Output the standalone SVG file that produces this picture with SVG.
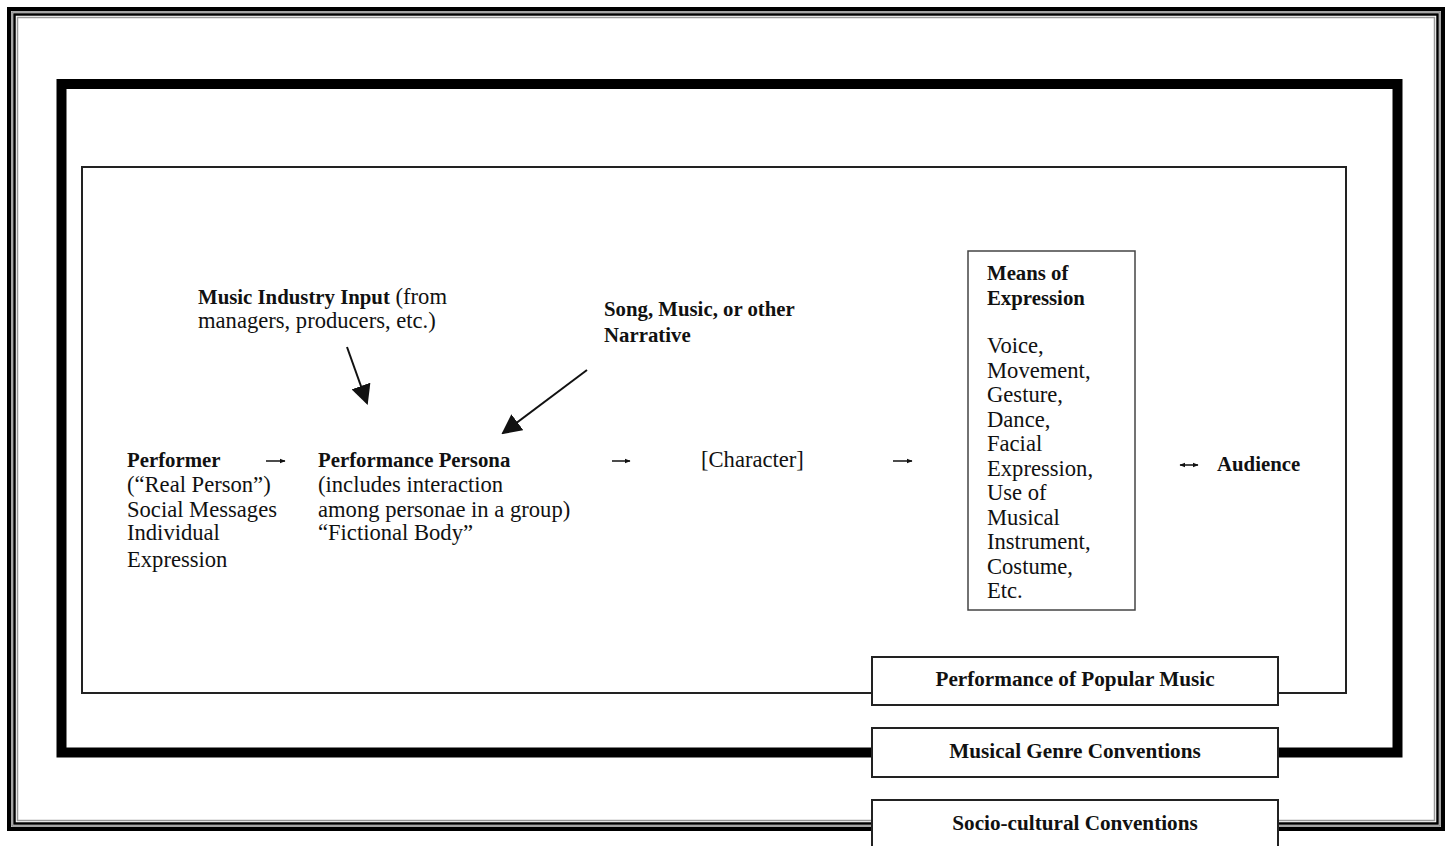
<svg xmlns="http://www.w3.org/2000/svg" width="1445" height="846" viewBox="0 0 1445 846">
<defs>
<style>
text{font-family:"Liberation Serif","Times New Roman",serif;font-size:22.6px;fill:#111}
.b{font-weight:bold;font-size:20.8px}
.lbl{text-anchor:middle;font-weight:bold;font-size:21.2px}
.box{fill:#fff;stroke:#222;stroke-width:2}
.conn{stroke:#111;stroke-width:2;fill:none}
.sm{stroke:#111;stroke-width:1.5;fill:none}
</style>
<marker id="head" viewBox="0 0 10 10" refX="9" refY="5" markerWidth="10" markerHeight="10" orient="auto">
<path d="M0,0 L10,5 L0,10 z" fill="#111"/>
</marker>
<marker id="tiny" viewBox="0 0 10 10" refX="9" refY="5" markerWidth="4" markerHeight="4" orient="auto">
<path d="M0,1 L10,5 L0,9 z" fill="#111"/>
</marker>
<marker id="tinyS" viewBox="0 0 10 10" refX="1" refY="5" markerWidth="4" markerHeight="4" orient="auto">
<path d="M10,1 L0,5 L10,9 z" fill="#111"/>
</marker>
</defs>
<rect width="1445" height="846" fill="#fff"/>
<g id="frame-socio">
<rect x="9" y="9" width="1434" height="820" fill="none" stroke="#000" stroke-width="4"/>
<rect x="12" y="12" width="1428" height="814" fill="none" stroke="#888" stroke-width="1.5"/>
<rect x="14.5" y="14.5" width="1423" height="809" fill="none" stroke="#000" stroke-width="2.5"/>
<rect x="17.5" y="17.5" width="1417" height="803" fill="none" stroke="#999" stroke-width="1.5"/>
</g>
<g id="frame-genre">
<rect x="61.5" y="84" width="1336" height="668.5" fill="none" stroke="#000" stroke-width="10"/>
</g>
<g id="frame-performance">
<rect x="82" y="167" width="1264" height="526" fill="none" stroke="#222" stroke-width="2"/>
</g>
<g id="label-performance">
<rect class="box" x="872" y="657" width="406" height="48"/>
<text class="lbl" x="1075" y="686">Performance of Popular Music</text>
</g>
<g id="label-genre">
<rect class="box" x="872" y="728" width="406" height="49"/>
<text class="lbl" x="1075" y="758">Musical Genre Conventions</text>
</g>
<g id="label-socio">
<rect class="box" x="872" y="800" width="406" height="60"/>
<text class="lbl" x="1075" y="830">Socio-cultural Conventions</text>
</g>
<g id="music-industry">
<text x="198" y="304"><tspan class="b">Music Industry Input</tspan> (from</text>
<text x="198" y="328">managers, producers, etc.)</text>
</g>
<g id="narrative">
<text class="b" x="604" y="316">Song, Music, or other</text>
<text class="b" x="604" y="342">Narrative</text>
</g>
<g id="performer">
<text class="b" x="127" y="467">Performer</text>
<text x="127" y="492">(“Real Person”)</text>
<text x="127" y="517">Social Messages</text>
<text x="127" y="540">Individual</text>
<text x="127" y="567">Expression</text>
</g>
<g id="persona">
<text class="b" x="318" y="467">Performance Persona</text>
<text x="318" y="492">(includes interaction</text>
<text x="318" y="517">among personae in a group)</text>
<text x="318" y="540">“Fictional Body”</text>
</g>
<g id="character">
<text x="701" y="467">[Character]</text>
</g>
<g id="means">
<rect x="968" y="251" width="167" height="359" fill="#fff" stroke="#444" stroke-width="1.5"/>
<text class="b" x="987" y="280">Means of</text>
<text class="b" x="987" y="305">Expression</text>
<text x="987" y="353">Voice,</text>
<text x="987" y="378">Movement,</text>
<text x="987" y="402">Gesture,</text>
<text x="987" y="427">Dance,</text>
<text x="987" y="451">Facial</text>
<text x="987" y="476">Expression,</text>
<text x="987" y="500">Use of</text>
<text x="987" y="525">Musical</text>
<text x="987" y="549">Instrument,</text>
<text x="987" y="574">Costume,</text>
<text x="987" y="598">Etc.</text>
</g>
<g id="audience">
<text class="b" x="1217" y="471">Audience</text>
</g>
<g id="connectors">
<line class="conn" x1="347" y1="347" x2="367" y2="403" marker-end="url(#head)"/>
<line class="conn" x1="587" y1="370" x2="503" y2="433" marker-end="url(#head)"/>
<line class="sm" x1="266" y1="461" x2="285" y2="461" marker-end="url(#tiny)"/>
<line class="sm" x1="612" y1="461" x2="630" y2="461" marker-end="url(#tiny)"/>
<line class="sm" x1="893" y1="461" x2="912" y2="461" marker-end="url(#tiny)"/>
<line class="sm" x1="1180" y1="465" x2="1198" y2="465" marker-start="url(#tinyS)" marker-end="url(#tiny)"/>
</g>
</svg>
